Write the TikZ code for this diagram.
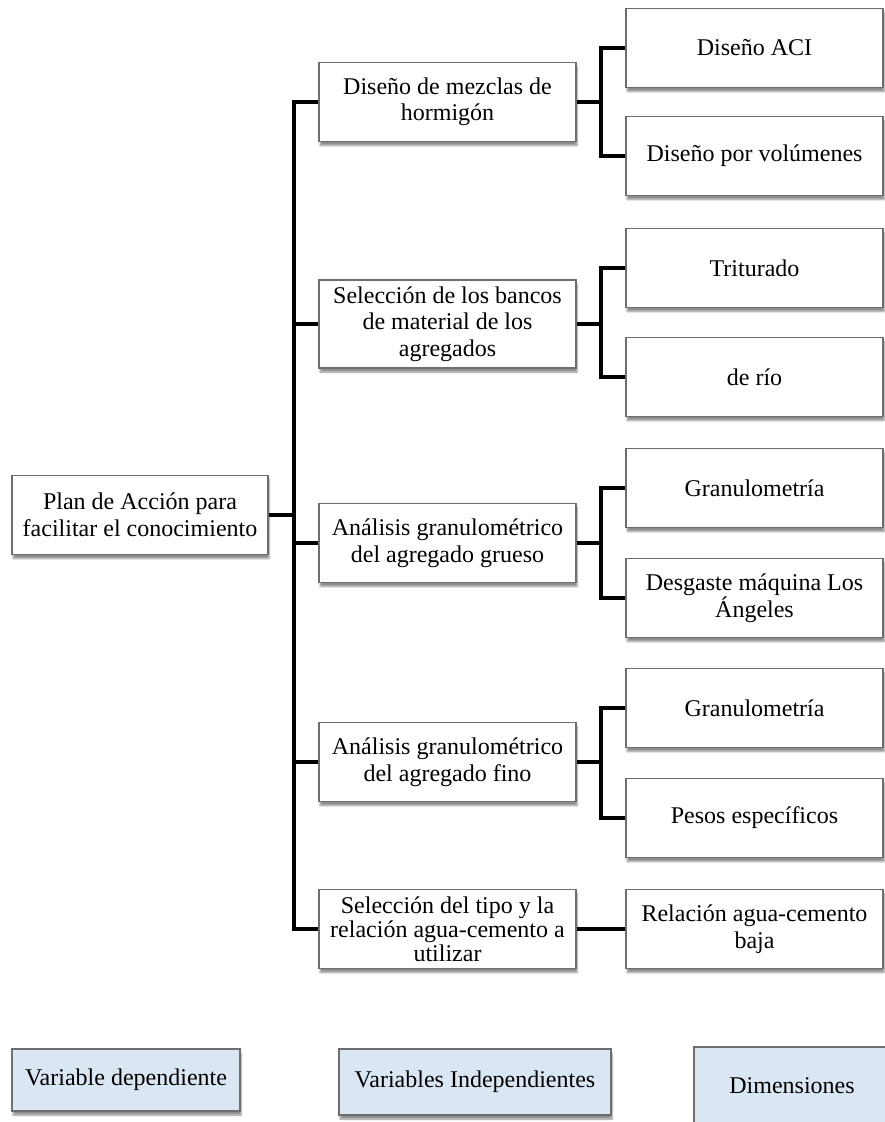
\documentclass[tikz,border=0pt]{standalone}
\usepackage{fontspec}
\setmainfont{Liberation Serif}
\usetikzlibrary{shadows.blur}
\definecolor{boxgray}{HTML}{6E6E6E}
\definecolor{legblue}{HTML}{DAE7F3}
\begin{document}
\begin{tikzpicture}[x=1pt,y=-1pt,
  box/.style={draw=boxgray, line width=1.2pt, fill=white, align=center,
    minimum width=257pt, minimum height=79pt, inner sep=2pt,
    font=\fontsize{24}{26.5}\selectfont,
    blur shadow={shadow xshift=1pt, shadow yshift=-4pt, shadow blur steps=6, shadow opacity=45}},
  legbox/.style={box, fill=legblue},
  conn/.style={line width=4pt}]
\useasboundingbox (0,0) rectangle (885,1122);
\clip (0,0) rectangle (885,1122);

% root
\node[box, minimum width=256pt] (root) at (140,515) {Plan de Acción para\\facilitar el conocimiento};

% middle column
\node[box] (m1) at (447.5,102) {Diseño de mezclas de\\hormigón};
\node[box, minimum height=88pt] (m2) at (447.5,324) {Selección de los bancos\\de material de los\\agregados};
\node[box] (m3) at (447.5,543) {Análisis granulométrico\\del agregado grueso};
\node[box] (m4) at (447.5,762) {Análisis granulométrico\\del agregado fino};
\node[box, font=\fontsize{24}{24}\selectfont] (m5) at (447.5,929) {Selección del tipo y la\\relación agua-cemento a\\utilizar};

% right column
\node[box] (r1) at (754.5,48) {Diseño ACI};
\node[box] (r2) at (754.5,156) {Diseño por volúmenes};
\node[box] (r3) at (754.5,268) {Triturado};
\node[box] (r4) at (754.5,377) {de río};
\node[box] (r5) at (754.5,488) {Granulometría};
\node[box] (r6) at (754.5,598) {Desgaste máquina Los\\Ángeles};
\node[box] (r7) at (754.5,708) {Granulometría};
\node[box] (r8) at (754.5,818) {Pesos específicos};
\node[box] (r9) at (754.5,929) {Relación agua-cemento\\baja};

% connectors
\coordinate (tr) at (294,0);
\coordinate (st) at (601,0);
\foreach \m in {m1,m2,m3,m4,m5}
  \draw[conn] (root.east) -- (root.east -| tr) |- (\m.west);
\draw[conn] (m1.east) -- (m1.east -| st) |- (r1.west);
\draw[conn] (m1.east) -- (m1.east -| st) |- (r2.west);
\draw[conn] (m2.east) -- (m2.east -| st) |- (r3.west);
\draw[conn] (m2.east) -- (m2.east -| st) |- (r4.west);
\draw[conn] (m3.east) -- (m3.east -| st) |- (r5.west);
\draw[conn] (m3.east) -- (m3.east -| st) |- (r6.west);
\draw[conn] (m4.east) -- (m4.east -| st) |- (r7.west);
\draw[conn] (m4.east) -- (m4.east -| st) |- (r8.west);
\draw[conn] (m5.east) -- (r9.west);

% legend
\node[legbox, minimum width=228pt, minimum height=62pt] (l1) at (126,1080) {Variable dependiente};
\node[legbox, minimum width=272pt, minimum height=66pt] (l2) at (475,1082) {Variables Independientes};
\node[legbox, minimum width=196pt, minimum height=78pt] (l3) at (792,1086) {Dimensiones};
\end{tikzpicture}
\end{document}
